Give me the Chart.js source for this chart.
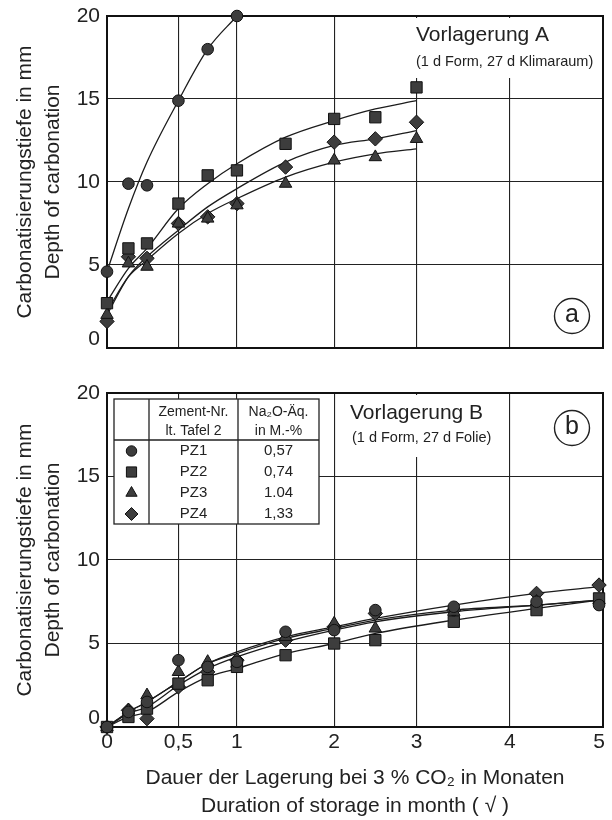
<!DOCTYPE html>
<html><head><meta charset="utf-8">
<script src="https://cdn.jsdelivr.net/npm/chart.js@4/dist/chart.umd.min.js"></script>
<style>
html,body{margin:0;padding:0;background:#fff;}
#wrap{position:relative;width:612px;height:820px;overflow:hidden;}
#c1{position:absolute;left:0;top:0;}
#c2{position:absolute;left:0;top:360px;}
</style></head><body>
<div id="wrap"><canvas id="c1" width="612" height="360"></canvas><canvas id="c2" width="612" height="460"></canvas></div>
<script>
// ---------- data ----------
const xTicks = [0, 0.5, 1, 2, 3, 4, 5];
const xTickLabels = ['0', '0,5', '1', '2', '3', '4', '5'];
const seriesNames = ['PZ1', 'PZ2', 'PZ3', 'PZ4'];
const na2oLabels = ['0,57', '0,74', '1.04', '1,33'];
const tableHeader1 = ['Zement-Nr.', 'lt. Tafel 2'];
const tableHeader2 = ['Na₂O-Äq.', 'in M.-%'];
const yTitle = ['Carbonatisierungstiefe in mm', 'Depth of carbonation'];
const xTitle = ['Dauer der Lagerung bei 3 % CO₂ in Monaten', 'Duration of storage in month ( √ )'];
const panelATitle = ['Vorlagerung A', '(1 d Form, 27 d Klimaraum)'];
const panelBTitle = ['Vorlagerung B', '(1 d Form, 27 d Folie)'];

// panel a (Vorlagerung A)
const xA = [0, 0.15, 0.28, 0.5, 0.75, 1, 1.5, 2, 2.5, 3];
const pz1A = [4.6, 9.9, 9.8, 14.9, 18.0, 20.0];
const pz2A = [2.7, 6.0, 6.3, 8.7, 10.4, 10.7, 12.3, 13.8, 13.9, 15.7];
const pz3A = [2.0, 5.1, 4.9, 7.5, 7.8, 8.6, 9.9, 11.3, 11.5, 12.6];
const pz4A = [1.6, 5.5, 5.4, 7.5, 7.9, 8.7, 10.9, 12.4, 12.6, 13.6];
const fitPz1A = [4.6, 8.4, 11.2, 14.9, 18.0, 20.0];
const fitPz2A = [2.8, 4.8, 6.0, 8.4, 9.9, 11.1, 12.7, 13.7, 14.4, 14.9];
const fitPz3A = [2.2, 4.3, 5.3, 6.9, 8.1, 9.0, 10.3, 11.2, 11.7, 12.0];
const fitPz4A = [2.0, 4.3, 5.5, 7.1, 8.5, 9.6, 11.2, 12.2, 12.6, 13.1];

// panel b (Vorlagerung B)
const xB = [0, 0.15, 0.28, 0.5, 0.75, 1, 1.5, 2, 2.5, 3.4, 4.3, 5];
const pz1B = [0, 0.9, 1.5, 4.0, 3.6, 3.9, 5.7, 5.8, 7.0, 7.2, 7.5, 7.3];
const pz2B = [0, 0.6, 1.1, 2.6, 2.8, 3.6, 4.3, 5.0, 5.2, 6.3, 7.0, 7.7];
const pz3B = [0, 1.0, 1.9, 3.3, 3.9, 3.8, 5.4, 6.2, 5.9, 6.9, 7.5, 7.6];
const pz4B = [0, 1.0, 0.5, 2.4, 3.3, 4.0, 5.2, 6.0, 6.8, 7.0, 8.0, 8.5];
const fitPz1B = [0, 0.9, 1.5, 2.7, 3.8, 4.4, 5.3, 5.9, 6.4, 7.0, 7.3, 7.6];
const fitPz2B = [0, 0.6, 0.9, 2.1, 3.0, 3.5, 4.4, 5.0, 5.6, 6.4, 7.1, 7.6];
const fitPz3B = [0, 0.8, 1.2, 2.5, 3.5, 4.2, 5.1, 5.8, 6.3, 6.9, 7.3, 7.6];
const fitPz4B = [0, 0.9, 1.5, 2.7, 3.8, 4.5, 5.4, 6.0, 6.5, 7.3, 8.0, 8.4];

// ---------- axis geometry (non-uniform time axis of the original) ----------
const axisStretch = { values: [0, 0.5, 1, 2, 3, 4, 5], decimals: [0, 0.144, 0.262, 0.458, 0.624, 0.812, 0.992] };

class StretchedLinearScale extends Chart.LinearScale {
  _toDecimal(v) {
    const { values, decimals } = axisStretch;
    let i = 1;
    while (i < values.length - 1 && v > values[i]) i++;
    return decimals[i - 1] + (v - values[i - 1]) / (values[i] - values[i - 1]) * (decimals[i] - decimals[i - 1]);
  }
  getPixelForValue(v) {
    if (v === null || v === undefined) return NaN;
    return this.getPixelForDecimal(this._toDecimal(v));
  }
  getValueForPixel(p) {
    const d = this.getDecimalForPixel(p);
    const { values, decimals } = axisStretch;
    let i = 1;
    while (i < decimals.length - 1 && d > decimals[i]) i++;
    return values[i - 1] + (d - decimals[i - 1]) / (decimals[i] - decimals[i - 1]) * (values[i] - values[i - 1]);
  }
}
StretchedLinearScale.id = 'stretchedLinear';
StretchedLinearScale.defaults = Chart.LinearScale.defaults;
Chart.register(StretchedLinearScale);

Chart.defaults.font.family = "'Liberation Sans', Arial, Helvetica, sans-serif";
Chart.defaults.color = '#222';

const INK = '#1c1c1c';
const FILL = '#3d3d3d';
const markerStyles = [
  { pointStyle: 'circle', radius: 5.8 },
  { pointStyle: 'rect', radius: 8 },
  { pointStyle: 'triangle', radius: 7.2 },
  { pointStyle: 'rectRot', radius: 7.2 }
];

function pts(xs, ys) { return ys.map((y, i) => ({ x: xs[i], y })); }
function markerSet(k, xs, ys) {
  const m = markerStyles[k];
  return {
    label: seriesNames[k], data: pts(xs, ys), showLine: false,
    pointStyle: m.pointStyle, pointRadius: m.radius,
    pointBackgroundColor: FILL, pointBorderColor: '#111', pointBorderWidth: 1,
    clip: false, order: 1
  };
}
function fitSet(k, xs, ys) {
  return {
    label: seriesNames[k] + ' fit', data: pts(xs, ys), showLine: true,
    borderColor: INK, borderWidth: 1.3, pointRadius: 0,
    cubicInterpolationMode: 'monotone', fill: false, clip: false, order: 2
  };
}

const panelDecor = {
  id: 'panelDecor',
  beforeDraw(chart) {
    // the original sets the "0" of the depth axis slightly above the frame
    const items = chart.scales.y.getLabelItems();
    items.forEach(it => { if (it.label === '0') it.options.translation[1] -= 9; });
  },
  beforeDatasetsDraw(chart, args, o) {
    const ctx = chart.ctx, a = chart.chartArea;
    ctx.save();
    if (o.box) {
      ctx.fillStyle = '#fff';
      ctx.fillRect(o.box[0], o.box[1], o.box[2], o.box[3]);
    }
    ctx.strokeStyle = '#111';
    ctx.lineWidth = 2;
    ctx.strokeRect(a.left, a.top, a.right - a.left, a.bottom - a.top);
    if (o.title) {
      ctx.fillStyle = '#222';
      ctx.textAlign = 'left';
      ctx.textBaseline = 'middle';
      ctx.font = "21px 'Liberation Sans', Arial, sans-serif";
      ctx.fillText(o.title[0], o.titleAt[0], o.titleAt[1]);
      ctx.font = "14.5px 'Liberation Sans', Arial, sans-serif";
      ctx.fillText(o.title[1], o.titleAt[2], o.titleAt[3]);
    }
    if (o.tag) {
      ctx.beginPath();
      ctx.lineWidth = 1.4;
      ctx.strokeStyle = '#222';
      ctx.arc(o.tag[1], o.tag[2], 17.5, 0, Math.PI * 2);
      ctx.stroke();
      ctx.fillStyle = '#222';
      ctx.textAlign = 'center';
      ctx.textBaseline = 'middle';
      ctx.font = "25px 'Liberation Sans', Arial, sans-serif";
      ctx.fillText(o.tag[0], o.tag[1], o.tag[2] - 1);
    }
    ctx.restore();
  },
  afterDatasetsDraw(chart, args, o) {
    if (!o.table) return;
    const ctx = chart.ctx;
    const t = o.table;
    ctx.save();
    ctx.fillStyle = '#fff';
    ctx.fillRect(t.left, t.top, t.right - t.left, t.bottom - t.top);
    ctx.strokeStyle = '#222';
    ctx.lineWidth = 1.3;
    ctx.strokeRect(t.left, t.top, t.right - t.left, t.bottom - t.top);
    ctx.beginPath();
    ctx.moveTo(t.col1, t.top); ctx.lineTo(t.col1, t.bottom);
    ctx.moveTo(t.col2, t.top); ctx.lineTo(t.col2, t.bottom);
    ctx.moveTo(t.left, t.headBottom); ctx.lineTo(t.right, t.headBottom);
    ctx.stroke();
    ctx.fillStyle = '#222';
    ctx.textAlign = 'center';
    ctx.textBaseline = 'middle';
    ctx.font = "14px 'Liberation Sans', Arial, sans-serif";
    const c1 = (t.col1 + t.col2) / 2, c2 = (t.col2 + t.right) / 2;
    tableHeader1.forEach((s, i) => ctx.fillText(s, c1, t.headRows[i]));
    tableHeader2.forEach((s, i) => ctx.fillText(s, c2, t.headRows[i]));
    ctx.font = "15px 'Liberation Sans', Arial, sans-serif";
    seriesNames.forEach((s, i) => {
      const y = t.rows[i];
      ctx.fillStyle = '#222';
      ctx.fillText(s, c1, y);
      ctx.fillText(na2oLabels[i], c2, y);
      ctx.fillStyle = FILL;
      ctx.strokeStyle = '#111';
      ctx.lineWidth = 1;
      const m = markerStyles[i];
      Chart.helpers.drawPoint(ctx, { pointStyle: m.pointStyle, radius: m.radius * 0.9, rotation: 0, borderWidth: 1 }, (t.left + t.col1) / 2, y);
    });
    ctx.restore();
  }
};
Chart.register(panelDecor);

function gridColor(c) {
  const v = c.tick ? c.tick.value : null;
  return (v === 0 || v === 5 && c.scale.axis === 'x' || v === 20) ? 'rgba(0,0,0,0)' : '#222';
}

function makeOptions(showX, decor) {
  return {
    responsive: false, animation: false, events: [],
    layout: { padding: { top: 10, right: 5, left: 0, bottom: 0 } },
    plugins: { legend: { display: false }, tooltip: { enabled: false }, panelDecor: decor },
    scales: {
      x: {
        type: 'stretchedLinear', min: 0, max: 5,
        afterBuildTicks: ax => { ax.ticks = xTicks.map(v => ({ value: v })); },
        afterFit: ax => { ax.paddingLeft = 0; ax.paddingRight = 0; },
        grid: { color: gridColor, lineWidth: 1.1, drawTicks: false },
        border: { display: false },
        ticks: {
          display: showX, autoSkip: false, maxRotation: 0, padding: 3,
          font: { size: 21 }, color: '#222',
          callback: (v, i) => xTickLabels[i]
        },
        title: {
          display: showX, text: xTitle, color: '#222',
          font: { size: 21, lineHeight: 1.333 }, padding: { top: 6, bottom: 3 }
        }
      },
      y: {
        min: 0, max: 20,
        ticks: { stepSize: 5, padding: 7, font: { size: 21 }, color: '#222' },
        afterFit: ax => { ax.width = 107; ax.paddingTop = 0; ax.paddingBottom = 0; },
        grid: { color: gridColor, lineWidth: 1.1, drawTicks: false },
        border: { display: false },
        title: {
          display: true, text: yTitle, color: '#222',
          font: { size: 21, lineHeight: 1.333 }, padding: { top: 11, bottom: 0 }
        }
      }
    }
  };
}

// pin the plot area to the frame position of the original figure
function pinArea(chart, target) {
  for (let k = 0; k < 4; k++) {
    const a = chart.chartArea, p = chart.options.layout.padding;
    const dt = target.top - a.top, db = a.bottom - target.bottom, dr = a.right - target.right, dl = target.left - a.left;
    if (Math.abs(dt) < 0.3 && Math.abs(db) < 0.3 && Math.abs(dr) < 0.3 && Math.abs(dl) < 0.3) break;
    p.top += dt; p.bottom += db; p.right += dr; p.left += dl;
    chart.update();
  }
}

const chartA = new Chart(document.getElementById('c1'), {
  type: 'scatter',
  data: {
    datasets: [
      markerSet(0, xA, pz1A), markerSet(1, xA, pz2A), markerSet(2, xA, pz3A), markerSet(3, xA, pz4A),
      fitSet(0, xA, fitPz1A), fitSet(1, xA, fitPz2A), fitSet(2, xA, fitPz3A), fitSet(3, xA, fitPz4A)
    ]
  },
  options: makeOptions(false, {
    box: [410, 18, 194, 60],
    title: panelATitle, titleAt: [416, 35, 416, 62],
    tag: ['a', 572, 316]
  })
});
pinArea(chartA, { left: 107, top: 16, right: 607, bottom: 348 });

const chartB = new Chart(document.getElementById('c2'), {
  type: 'scatter',
  data: {
    datasets: [
      markerSet(0, xB, pz1B), markerSet(1, xB, pz2B), markerSet(2, xB, pz3B), markerSet(3, xB, pz4B),
      fitSet(0, xB, fitPz1B), fitSet(1, xB, fitPz2B), fitSet(2, xB, fitPz3B), fitSet(3, xB, fitPz4B)
    ]
  },
  options: makeOptions(true, {
    box: [343, 35, 162, 62],
    title: panelBTitle, titleAt: [350, 53, 352, 78],
    tag: ['b', 572, 68],
    table: { left: 114, right: 319, top: 39, bottom: 164, col1: 149, col2: 238, headBottom: 80,
             headRows: [52, 71], rows: [91, 112, 133, 154] }
  })
});
pinArea(chartB, { left: 107, top: 33, right: 607, bottom: 367 });
</script>
</body></html>
